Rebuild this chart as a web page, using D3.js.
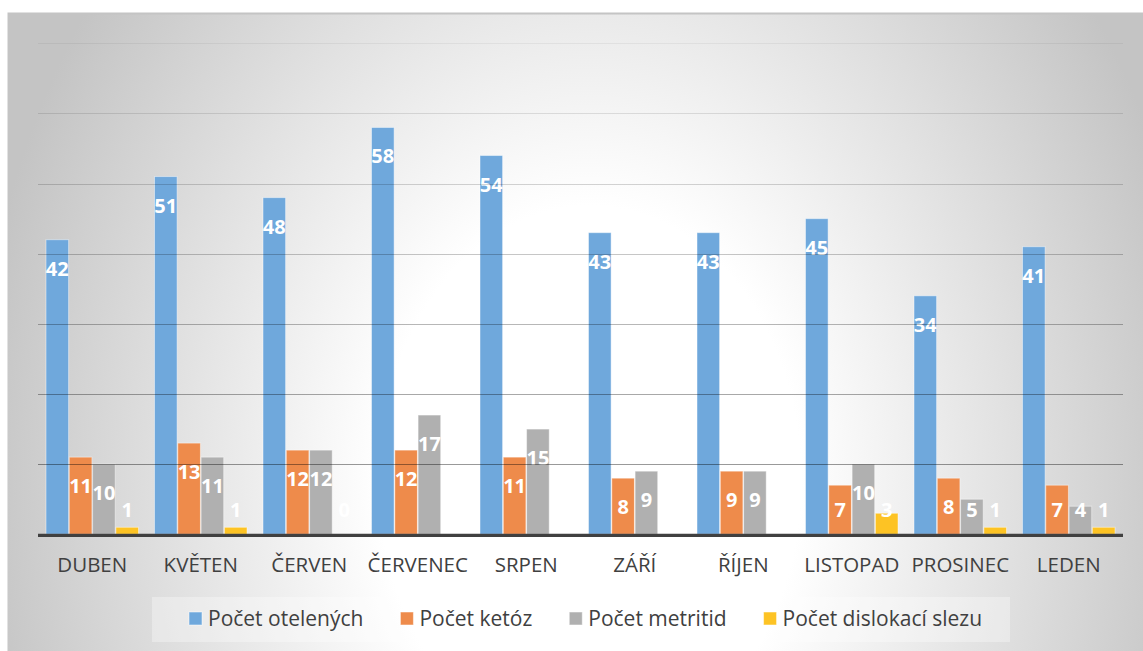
<!DOCTYPE html>
<html>
<head>
<meta charset="utf-8">
<script src="https://cdn.jsdelivr.net/npm/d3@7"></script>
<style>
  html, body { margin: 0; padding: 0; background: #ffffff; }
  svg { display: block; }
</style>
</head>
<body>
<svg id="chart" width="1143" height="651"></svg>
<script>
// ---- data ----
const categories = ["DUBEN", "KVĚTEN", "ČERVEN", "ČERVENEC", "SRPEN", "ZÁŘÍ", "ŘÍJEN", "LISTOPAD", "PROSINEC", "LEDEN"];
const seriesNames = ["Počet otelených", "Počet ketóz", "Počet metritid", "Počet dislokací slezu"];
const otelenych = [42, 51, 48, 58, 54, 43, 43, 45, 34, 41];
const ketoz = [11, 13, 12, 12, 11, 8, 9, 7, 8, 7];
const metritid = [10, 11, 12, 17, 15, 9, 9, 10, 5, 4];
const dislokaci = [1, 1, 0, 0, 0, 0, 0, 3, 1, 1];
const gridTicks = [10, 20, 30, 40, 50, 60, 70];
const colors = ["#6fa8dc", "#ee8b4b", "#b0b0b0", "#fdc324"];

const seriesValues = [otelenych, ketoz, metritid, dislokaci];

const svg = d3.select("#chart");
const W = 1143, H = 651;

// ---- background ----
const defs = svg.append("defs");
const grad = defs.append("radialGradient")
  .attr("id", "bg")
  .attr("gradientUnits", "userSpaceOnUse")
  .attr("cx", 590).attr("cy", 480).attr("r", 620)
  .attr("fx", 590).attr("fy", 480)
  .attr("gradientTransform", "translate(590,480) scale(1,1.3) translate(-590,-480)");
grad.append("stop").attr("offset", "0").attr("stop-color", "#ffffff");
grad.append("stop").attr("offset", "0.34").attr("stop-color", "#ffffff");
grad.append("stop").attr("offset", "0.62").attr("stop-color", "#e6e6e6");
grad.append("stop").attr("offset", "1").attr("stop-color", "#c4c4c4");

svg.append("rect").attr("x", 7.5).attr("y", 13).attr("width", W - 7.5).attr("height", H - 13)
  .attr("fill", "url(#bg)");
svg.append("line").attr("x1", 7.5).attr("x2", W).attr("y1", 13.5).attr("y2", 13.5)
  .attr("stroke", "#c4c4c4").attr("stroke-width", 2);
svg.append("line").attr("x1", 7.5).attr("x2", 7.5).attr("y1", 13).attr("y2", H)
  .attr("stroke", "#e2e2e2").attr("stroke-width", 1);

// ---- scales ----
const x0 = d3.scaleBand().domain(categories).range([38, 1123]).paddingInner(0).paddingOuter(0);
const groupPad = 8;
const x1 = d3.scaleBand().domain(d3.range(seriesNames.length))
  .range([groupPad, x0.bandwidth() - groupPad]).paddingInner(0.03).paddingOuter(0);
const y = d3.scaleLinear().domain([0, 70]).range([534.3, 43.3]);

// ---- bars ----
const groups = svg.append("g").selectAll("g")
  .data(categories).join("g")
  .attr("transform", d => `translate(${x0(d)},0)`);

groups.selectAll("rect")
  .data((c, i) => seriesValues.map((vals, s) => ({ s, v: vals[i] })))
  .join("rect")
  .attr("x", d => x1(d.s))
  .attr("width", x1.bandwidth())
  .attr("y", d => y(d.v))
  .attr("height", d => y(0) - y(d.v))
  .attr("fill", d => colors[d.s])
  .attr("stroke", "rgba(255,255,255,0.45)")
  .attr("stroke-width", 1);

// ---- gridlines (drawn over bars, faint) ----
const gridOpacity = d3.scaleLinear().domain([10, 70]).range([0.4, 0.05]);
svg.append("g").selectAll("line")
  .data(gridTicks).join("line")
  .attr("x1", 38).attr("x2", 1123)
  .attr("y1", d => Math.round(y(d)) + 0.5).attr("y2", d => Math.round(y(d)) + 0.5)
  .attr("stroke", "#000")
  .attr("stroke-opacity", d => gridOpacity(d))
  .attr("stroke-width", 1);

// ---- baseline ----
svg.append("line").attr("x1", 38).attr("x2", 1123)
  .attr("y1", y(0) + 1).attr("y2", y(0) + 1)
  .attr("stroke", "#404040").attr("stroke-width", 3.2);

// ---- data labels ----
groups.selectAll("text.lbl")
  .data((c, i) => seriesValues.map((vals, s) => ({ s, v: vals[i] })))
  .join("text")
  .attr("class", "lbl")
  .attr("x", d => x1(d.s) + x1.bandwidth() / 2)
  .attr("y", d => Math.min(y(d.v) + 36, 517))
  .attr("text-anchor", "middle")
  .attr("font-family", "'Open Sans', sans-serif")
  .attr("font-weight", "bold")
  .attr("font-size", 20)
  .attr("fill", "#ffffff")
  .text(d => d.v);

// ---- category axis labels ----
const xAxis = d3.axisBottom(x0).tickSize(0).tickPadding(0);
const ax = svg.append("g").attr("transform", `translate(0,${572})`).call(xAxis);
ax.select(".domain").remove();
ax.selectAll("text")
  .attr("dy", 0)
  .attr("y", 0)
  .attr("font-family", "'Open Sans', sans-serif")
  .attr("font-size", 20.5)
  .attr("fill", "#404040");

// ---- legend ----
svg.append("rect").attr("x", 152).attr("y", 597).attr("width", 858).attr("height", 45)
  .attr("fill", "rgba(255,255,255,0.32)");
const leg = svg.append("g");
let lx = 189;
seriesNames.forEach((name, i) => {
  leg.append("rect").attr("x", lx).attr("y", 612).attr("width", 13).attr("height", 13)
    .attr("fill", colors[i]).attr("stroke", "rgba(255,255,255,0.5)").attr("stroke-width", 1);
  const t = leg.append("text").attr("x", lx + 19).attr("y", 626)
    .attr("font-family", "'Open Sans', sans-serif")
    .attr("font-size", 21)
    .attr("fill", "#404040")
    .text(name);
  lx = lx + 19 + t.node().getComputedTextLength() + 37;
});
</script>
</body>
</html>
